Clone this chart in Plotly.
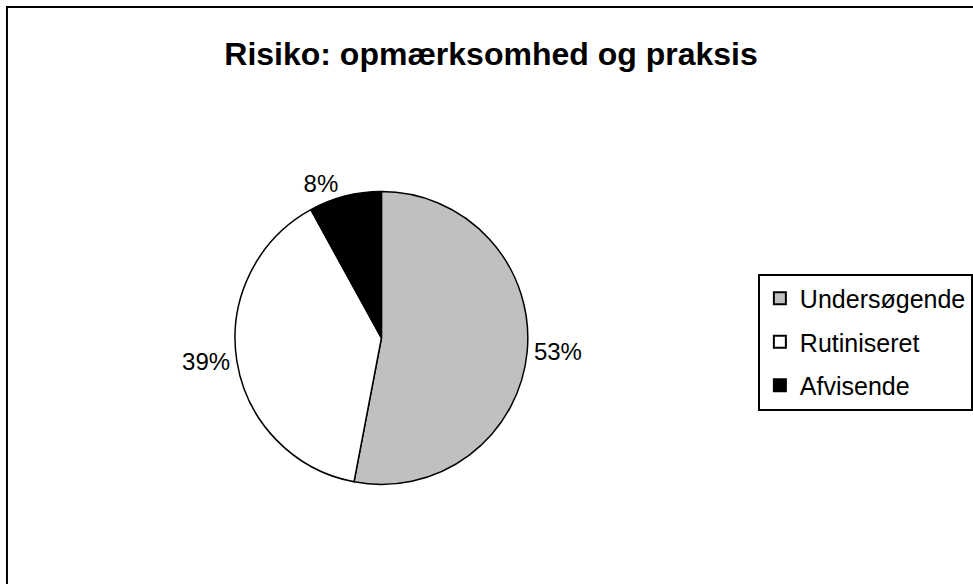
import plotly.graph_objects as go

categories = ["Undersøgende", "Rutiniseret", "Afvisende"]
values = [53, 39, 8]
colors = ["#C0C0C0", "#FFFFFF", "#000000"]
title_text = "Risiko: opmærksomhed og praksis"

W, H = 973, 584
cx, cy, r = 383, 338, 147
FONT = "Liberation Sans, Arial, sans-serif"

fig = go.Figure()

fig.add_trace(go.Pie(
    labels=categories,
    values=values,
    sort=False,
    direction="clockwise",
    rotation=0,
    marker=dict(colors=colors, line=dict(color="#000000", width=1.5)),
    textinfo="percent",
    textposition="outside",
    outsidetextfont=dict(family=FONT, size=24, color="#000000"),
    domain=dict(x=[(cx - r) / W, (cx + r) / W], y=[1 - (cy + r) / H, 1 - (cy - r) / H]),
    showlegend=False,
    hoverinfo="label+percent",
))

# legend entries (one legend group each so the item spacing can be set)
for name, col in zip(categories, colors):
    fig.add_trace(go.Scatter(
        x=[None], y=[None], mode="markers", name=name, legendgroup=name,
        marker=dict(symbol="square", size=15, color=col, line=dict(color="#000000", width=1.5)),
    ))

fig.update_layout(
    width=W, height=H,
    margin=dict(l=0, r=0, t=0, b=0),
    paper_bgcolor="#FFFFFF", plot_bgcolor="#FFFFFF",
    title=dict(text="<b>" + title_text + "</b>", x=491 / W, xanchor="center",
               y=1 - 54 / H, yanchor="middle",
               font=dict(family=FONT, size=32, color="#000000")),
    xaxis=dict(visible=False), yaxis=dict(visible=False),
    legend=dict(x=761 / W, xanchor="left", y=1 - 342 / H, yanchor="middle",
                bordercolor="#000000", borderwidth=2, bgcolor="#FFFFFF",
                tracegroupgap=8, itemsizing="constant",
                font=dict(family=FONT, size=25, color="#000000")),
    shapes=[dict(type="rect", xref="paper", yref="paper",
                 x0=7 / W, x1=1.02, y0=-0.02, y1=1 - 7 / H,
                 line=dict(color="#000000", width=2), fillcolor="rgba(0,0,0,0)")],
)

fig.write_html("out.html", config={"displayModeBar": False},
               post_script="document.body.style.margin='0';document.body.style.overflow='hidden';")
